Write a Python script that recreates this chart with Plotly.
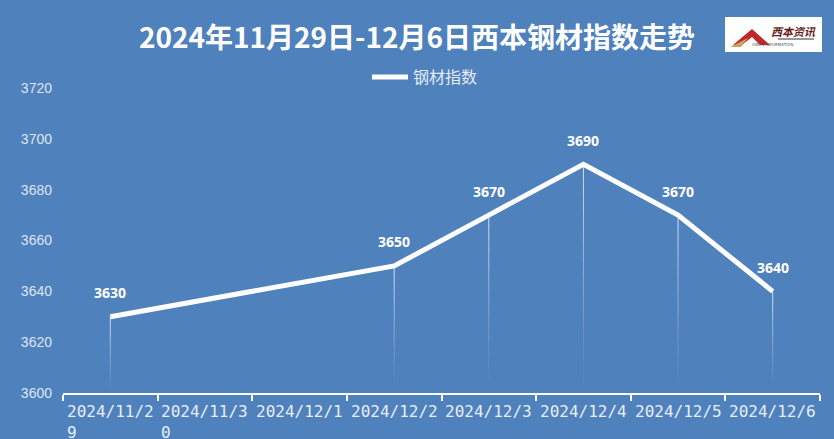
import plotly.graph_objects as go

categories = ["2024/11/29", "2024/11/30", "2024/12/1", "2024/12/2",
              "2024/12/3", "2024/12/4", "2024/12/5", "2024/12/6"]
tick_text = ["2024/11/2<br>9", "2024/11/3<br>0", "2024/12/1", "2024/12/2",
             "2024/12/3", "2024/12/4", "2024/12/5", "2024/12/6"]
steel_index = [3630, None, None, 3650, 3670, 3690, 3670, 3640]
y_ticks = [3600, 3620, 3640, 3660, 3680, 3700, 3720]
series_name = "钢材指数"
title_text = "2024年11月29日-12月6日西本钢材指数走势"

BG = "#4f81bd"
L, R, T, B = 63, 14, 88, 46
W, H = 834, 439
PW, PH = W - L - R, H - T - B

def px(x):
    return (x - L) / PW

def py(y):
    return (H - B - y) / PH

fig = go.Figure()

# fading drop lines
y0 = y_ticks[0]
nseg = 14
for c, v in zip(categories, steel_index):
    if v is None:
        continue
    for k in range(nseg):
        ya = v - (v - y0) * k / nseg
        yb = v - (v - y0) * (k + 1) / nseg
        op = 0.75 * (1 - k / nseg) ** 1.3
        fig.add_trace(go.Scatter(
            x=[c, c], y=[ya, yb], mode="lines",
            line=dict(color=f"rgba(255,255,255,{op:.3f})", width=1),
            showlegend=False, hoverinfo="skip"))

fig.add_trace(go.Scatter(
    x=categories, y=steel_index, mode="lines", name=series_name,
    connectgaps=True,
    line=dict(color="white", width=5),
))

annotations = []
for c, v in zip(categories, steel_index):
    if v is None:
        continue
    annotations.append(dict(
        x=c, y=v, xref="x", yref="y", text=f"<b>{v}</b>", showarrow=False,
        yshift=24, yanchor="middle",
        font=dict(family="Open Sans", size=14, color="white")))

for c, t in zip(categories, tick_text):
    annotations.append(dict(
        x=c, y=0, xref="x", yref="paper", text=t, showarrow=False,
        xanchor="center", yanchor="top", align="left", yshift=-7,
        font=dict(family="DejaVu Sans Mono", size=16, color="#e8eef6")))

# logo text
annotations.append(dict(
    x=px(793), y=py(31), xref="paper", yref="paper", text="<b><i>西本资讯</i></b>",
    showarrow=False, xanchor="center", yanchor="middle",
    font=dict(family="Noto Sans CJK SC", size=11, color="#6b1a1a")))
annotations.append(dict(
    x=px(773), y=py(44), xref="paper", yref="paper", text="XIBEN INFORMATION",
    showarrow=False, xanchor="center", yanchor="middle",
    font=dict(family="DejaVu Sans", size=4, color="#555555")))

shapes = [
    dict(type="rect", xref="paper", yref="paper",
         x0=px(725), x1=px(822), y0=py(52), y1=py(17),
         fillcolor="white", line=dict(width=0), layer="below"),
    dict(type="path", xref="paper", yref="paper",
         path=f"M {px(733)} {py(45)} L {px(752)} {py(29)} L {px(770)} {py(45)} L {px(760)} {py(45)} L {px(752)} {py(37)} L {px(742)} {py(45)} Z",
         fillcolor="#c0272d", line=dict(width=0), layer="below"),
    dict(type="path", xref="paper", yref="paper",
         path=f"M {px(730)} {py(47)} L {px(748)} {py(38)} L {px(741)} {py(47)} Z",
         fillcolor="#c9a45c", line=dict(width=0), layer="below"),
    dict(type="line", xref="paper", yref="paper",
         x0=px(778), x1=px(814), y0=py(39), y1=py(39),
         line=dict(color="#333333", width=1), layer="below"),
]

fig.update_layout(
    width=W, height=H,
    paper_bgcolor=BG, plot_bgcolor=BG,
    margin=dict(l=L, r=R, t=T, b=B),
    title=dict(text=f"<b>{title_text}</b>", x=0.5, xanchor="center",
               y=1 - 38 / H, yanchor="middle", yref="container",
               font=dict(family="Noto Sans CJK SC", size=28, color="white")),
    showlegend=True,
    legend=dict(orientation="h", x=px(425), xanchor="center", y=py(77), yanchor="middle",
                bgcolor="rgba(0,0,0,0)", itemwidth=36,
                font=dict(family="Noto Sans CJK SC", size=16, color="#e6ecf4")),
    annotations=annotations,
    shapes=shapes,
    xaxis=dict(type="category", categoryorder="array", categoryarray=categories,
               range=[-0.5, len(categories) - 0.5],
               showgrid=False, zeroline=False, showticklabels=False,
               showline=True, linecolor="white", linewidth=1.5,
               ticks="outside", tickson="boundaries", ticklen=6,
               tickcolor="white", tickwidth=1.5),
    yaxis=dict(range=[y_ticks[0], y_ticks[-1]], tickvals=y_ticks,
               showgrid=False, zeroline=False, showline=False,
               ticklabelstandoff=10,
               tickfont=dict(family="Liberation Sans", size=14, color="#dde6f1")),
)

fig.write_html("out.html", config={"displayModeBar": False},
               post_script="document.body.style.margin='0';document.body.style.overflow='hidden';")
